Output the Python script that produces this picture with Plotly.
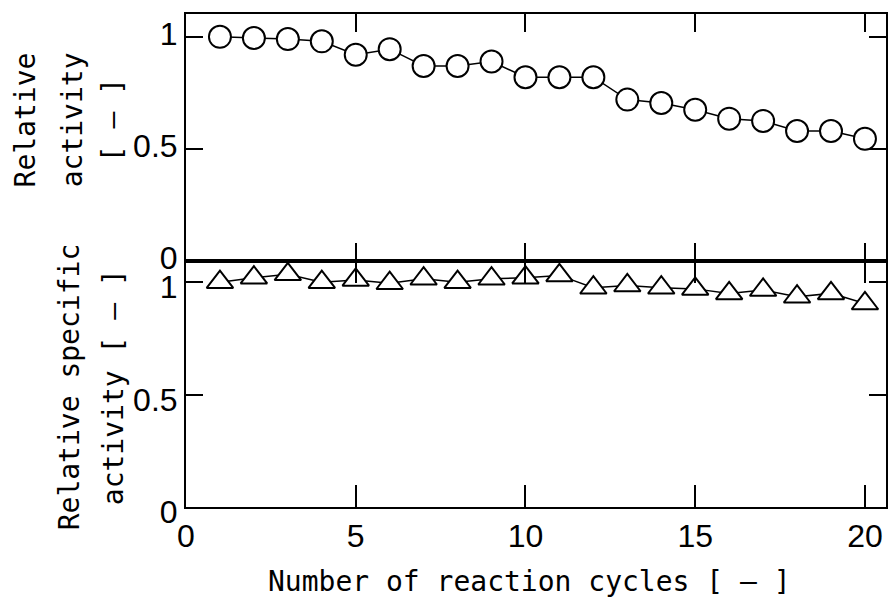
import plotly.graph_objects as go

cycles = list(range(1, 21))
relative_activity = [1.0, 0.995, 0.99, 0.98, 0.92, 0.945, 0.87, 0.87, 0.89, 0.82,
                     0.82, 0.82, 0.72, 0.705, 0.675, 0.635, 0.625, 0.58, 0.58, 0.545]
relative_specific_activity = [1.0, 1.02, 1.035, 1.0, 1.01, 0.995, 1.015, 1.0, 1.015, 1.02,
                              1.03, 0.975, 0.985, 0.975, 0.97, 0.95, 0.965, 0.935, 0.95, 0.905]
x_ticks = [0, 5, 10, 15, 20]
y_ticks = [0, 0.5, 1]
y_ticklabels = ["0", "0.5", "1"]

W, H = 891, 597
L, R, T, B = 186, 3, 14, 90
PW, PH = W - L - R, H - T - B
split_px = 261

def px(xp):
    return (xp - L) / PW

def py(yp):
    return (H - B - yp) / PH

split = py(split_px)

num_font = dict(family="Liberation Sans Narrow, Arial Narrow, Liberation Sans, Arial, sans-serif",
                size=32, color="black")
title_font = dict(family="DejaVu Sans Mono, Liberation Mono, monospace", size=28, color="black")

fig = go.Figure()
fig.add_trace(go.Scatter(
    x=cycles, y=relative_activity, mode="lines+markers", xaxis="x", yaxis="y",
    line=dict(color="black", width=1.5),
    marker=dict(symbol="circle", size=22, color="white", line=dict(color="black", width=2)),
    showlegend=False, cliponaxis=False))
fig.add_trace(go.Scatter(
    x=cycles, y=relative_specific_activity, mode="lines+markers", xaxis="x2", yaxis="y2",
    line=dict(color="black", width=1.5),
    marker=dict(symbol="triangle-up", size=23, color="white", line=dict(color="black", width=2)),
    showlegend=False, cliponaxis=False))

axis_common = dict(showline=True, linecolor="black", linewidth=2, mirror="ticks",
                   ticks="inside", tickcolor="black", tickwidth=2, showgrid=False,
                   zeroline=False, tickfont=num_font)

fig.update_layout(
    width=W, height=H,
    margin=dict(l=L, r=R, t=T, b=B),
    paper_bgcolor="white", plot_bgcolor="white",
    xaxis=dict(axis_common, domain=[0, 1], range=[0, 20.62], anchor="y",
               tickvals=x_ticks, showticklabels=False, ticklen=18),
    yaxis=dict(axis_common, domain=[split, 1], range=[0, 1.102], anchor="x",
               tickvals=y_ticks, ticktext=y_ticklabels, ticklen=17, ticklabelshift=-3),
    xaxis2=dict(axis_common, domain=[0, 1], range=[0, 20.62], anchor="y2",
                tickvals=x_ticks, ticklen=22),
    yaxis2=dict(axis_common, domain=[0, split], range=[0, 1.094], anchor="x2",
                tickvals=y_ticks, ticktext=y_ticklabels, ticklen=17, ticklabelshift=5),
)

ann = [
    ("Relative", 25, 120),
    ("activity", 72, 120),
    ("[ — ]", 112, 120),
    ("Relative specific", 69, 387),
    ("activity [ — ]", 113, 387),
]
for text, xp, yp in ann:
    fig.add_annotation(text=text, x=px(xp), y=py(yp), xref="paper", yref="paper",
                       textangle=-90, showarrow=False, font=title_font,
                       xanchor="center", yanchor="middle")
fig.add_annotation(text="Number of reaction cycles [ — ]", x=px(530), y=py(581),
                   xref="paper", yref="paper", showarrow=False, font=title_font,
                   xanchor="center", yanchor="middle")

fig.write_html("out.html")
